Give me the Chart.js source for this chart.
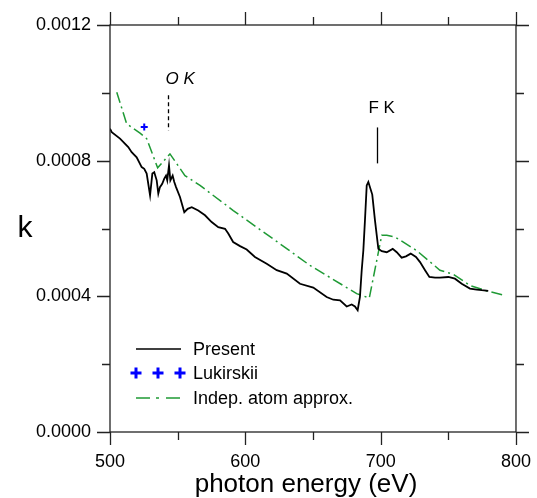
<!DOCTYPE html>
<html>
<head>
<meta charset="utf-8">
<script src="https://cdn.jsdelivr.net/npm/chart.js@4/dist/chart.umd.min.js"></script>
<style>
  html, body { margin: 0; padding: 0; background: #ffffff; }
  #wrap { width: 537px; height: 498px; position: relative; }
</style>
</head>
<body>
<div id="wrap"><canvas id="chart"></canvas></div>
<script>
// Extinction coefficient k versus photon energy (eV)
const presentEnergy = [500, 501.3, 507.4, 513.5, 516.0, 519.7, 523.4, 525.3, 527.1, 529.6, 531.3, 532.7, 534.5, 535.7, 536.9, 538.6, 540.1, 541.4, 542.3, 543.6, 544.6, 546.3, 547.5, 548.8, 551.7, 554.9, 557.4, 560.4, 565.2, 570.2, 575.1, 580.0, 585.0, 587.4, 591.0, 596.1, 601.0, 607.1, 615.8, 623.2, 630.6, 640.4, 650.2, 660.1, 665.0, 670.0, 674.9, 678.6, 681.0, 683.0, 684.7, 686.0, 687.2, 688.4, 689.7, 690.9, 693.8, 695.8, 698.3, 700.8, 704.5, 708.9, 711.9, 715.5, 718.7, 722.2, 726.1, 729.1, 732.8, 736.0, 740.2, 743.8, 750.0, 754.9, 759.9, 766.0, 771.0, 774.7, 779.5];
const presentK = [0.000894, 0.000884, 0.000865, 0.000840, 0.000825, 0.000810, 0.000781, 0.000776, 0.000762, 0.000698, 0.000762, 0.000766, 0.000742, 0.000703, 0.000722, 0.000732, 0.000747, 0.000756, 0.000742, 0.000786, 0.000742, 0.000756, 0.000737, 0.000722, 0.000693, 0.000648, 0.000658, 0.000663, 0.000653, 0.000639, 0.000619, 0.000604, 0.000599, 0.000585, 0.000560, 0.000548, 0.000538, 0.000516, 0.000496, 0.000477, 0.000467, 0.000437, 0.000426, 0.000398, 0.000390, 0.000388, 0.000370, 0.000376, 0.000370, 0.000359, 0.000398, 0.000477, 0.000535, 0.000624, 0.000727, 0.000737, 0.000700, 0.000624, 0.000540, 0.000533, 0.000530, 0.000540, 0.000530, 0.000514, 0.000518, 0.000526, 0.000516, 0.000501, 0.000477, 0.000457, 0.000455, 0.000455, 0.000457, 0.000452, 0.000437, 0.000423, 0.000420, 0.000418, 0.000416];

const lukirskiiEnergy = [525.3];
const lukirskiiK = [0.000899];

const indepEnergy = [505.0, 512.3, 522.2, 527.1, 535.2, 544.3, 555.4, 566.5, 591.1, 625.6, 647.8, 682.3, 691.6, 700.8, 704.5, 710.6, 726.6, 743.8, 753.7, 766.0, 778.4, 791.2];
const indepK = [0.001002, 0.000909, 0.000881, 0.000865, 0.000779, 0.000820, 0.000756, 0.000727, 0.000653, 0.000555, 0.000491, 0.000408, 0.000395, 0.000580, 0.000580, 0.000575, 0.000535, 0.000477, 0.000465, 0.000432, 0.000416, 0.000403];

const xMajorTicks = [500, 600, 700, 800];
const xMinorTicks = [550, 650, 750];
const yMajorTicks = [0, 0.0004, 0.0008, 0.0012];
const yMinorTicks = [0.0002, 0.0006, 0.0010];

// Absorption edge markers
const edgeNames = ['O K', 'F K'];
const edgeEnergy = [543, 697];
const edgeTopK = [0.000993, 0.000898];
const edgeBottomK = [0.000889, 0.000792];

const seriesNames = ['Present', 'Lukirskii', 'Indep. atom approx.'];
const xTitle = 'photon energy (eV)';
const yTitle = 'k';

const FONT = '"Liberation Sans", Arial, sans-serif';
const GREEN = '#1f9a35';
const BLUE = '#0000ff';
const GREEN_DASH = [11, 4, 2, 4];

const toPoints = (xs, ys) => xs.map((x, i) => ({ x: x, y: ys[i] }));

const framePlugin = {
  id: 'frameAndNotes',
  afterDatasetsDraw(chart) {
    const { ctx, chartArea: a, scales } = chart;
    const xs = scales.x, ys = scales.y;
    ctx.save();

    // frame
    ctx.strokeStyle = '#222';
    ctx.lineWidth = 1.3;
    ctx.setLineDash([]);
    ctx.strokeRect(a.left, a.top, a.right - a.left, a.bottom - a.top);

    // outward ticks on all four sides
    const MAJ = 13, MIN = 8;
    ctx.beginPath();
    const xTick = (v, len) => {
      const px = Math.round(xs.getPixelForValue(v)) + 0.5;
      ctx.moveTo(px, a.bottom); ctx.lineTo(px, a.bottom + len);
      ctx.moveTo(px, a.top); ctx.lineTo(px, a.top - len);
    };
    const yTick = (v, len) => {
      const py = Math.round(ys.getPixelForValue(v)) + 0.5;
      ctx.moveTo(a.left, py); ctx.lineTo(a.left - len, py);
      ctx.moveTo(a.right, py); ctx.lineTo(a.right + len, py);
    };
    xMajorTicks.forEach(v => xTick(v, MAJ));
    xMinorTicks.forEach(v => xTick(v, MIN));
    yMajorTicks.forEach(v => yTick(v, MAJ));
    yMinorTicks.forEach(v => yTick(v, MIN));
    ctx.stroke();

    // axis titles
    ctx.fillStyle = '#000';
    ctx.font = '30px ' + FONT;
    ctx.textAlign = 'center';
    ctx.textBaseline = 'alphabetic';
    ctx.fillText(yTitle, 25, (a.top + a.bottom) / 2 + 8);
    ctx.font = '26px ' + FONT;
    ctx.fillText(xTitle, (a.left + a.right) / 2 - 7, a.bottom + 60);

    // edge markers
    ctx.strokeStyle = '#000';
    ctx.lineWidth = 1.3;
    edgeNames.forEach((name, i) => {
      const px = Math.round(xs.getPixelForValue(edgeEnergy[i])) + 0.5;
      const y0 = ys.getPixelForValue(edgeTopK[i]);
      const y1 = ys.getPixelForValue(edgeBottomK[i]);
      ctx.setLineDash(i === 0 ? [4, 3] : []);
      ctx.beginPath();
      ctx.moveTo(px, y0); ctx.lineTo(px, y1);
      ctx.stroke();
      ctx.setLineDash([]);
      ctx.font = (i === 0 ? 'italic ' : '') + '17px ' + FONT;
      ctx.textAlign = 'left';
      ctx.textBaseline = 'alphabetic';
      ctx.fillText(name, px - (i === 0 ? 3 : 9), y0 - (i === 0 ? 11 : 14));
    });

    // legend
    const lx0 = a.left + 26, lx1 = a.left + 71, tx = a.left + 83;
    const rows = [a.bottom - 83, a.bottom - 59, a.bottom - 34];
    ctx.lineWidth = 1.5;
    ctx.strokeStyle = '#000';
    ctx.beginPath(); ctx.moveTo(lx0, rows[0]); ctx.lineTo(lx1, rows[0]); ctx.stroke();

    ctx.strokeStyle = BLUE;
    ctx.lineWidth = 3;
    [lx0, lx0 + 22, lx0 + 44].forEach(cx => {
      ctx.beginPath();
      ctx.moveTo(cx - 5.5, rows[1]); ctx.lineTo(cx + 5.5, rows[1]);
      ctx.moveTo(cx, rows[1] - 5.5); ctx.lineTo(cx, rows[1] + 5.5);
      ctx.stroke();
    });

    ctx.strokeStyle = GREEN;
    ctx.lineWidth = 1.5;
    ctx.setLineDash([14, 6, 3, 7]);
    ctx.beginPath(); ctx.moveTo(lx0, rows[2]); ctx.lineTo(lx1 - 1, rows[2]); ctx.stroke();
    ctx.setLineDash([]);

    ctx.fillStyle = '#000';
    ctx.font = '18px ' + FONT;
    ctx.textAlign = 'left';
    ctx.textBaseline = 'middle';
    seriesNames.forEach((n, i) => ctx.fillText(n, tx, rows[i] + 1));

    ctx.restore();
  }
};

new Chart(document.getElementById('chart'), {
  type: 'scatter',
  data: {
    datasets: [
      {
        label: seriesNames[0],
        data: toPoints(presentEnergy, presentK),
        showLine: true,
        borderColor: '#000',
        borderWidth: 1.8,
        pointRadius: 0,
        tension: 0
      },
      {
        label: seriesNames[1],
        data: toPoints(lukirskiiEnergy, lukirskiiK),
        showLine: false,
        pointStyle: 'cross',
        pointRadius: 3.5,
        borderColor: BLUE,
        backgroundColor: BLUE,
        pointBorderWidth: 2
      },
      {
        label: seriesNames[2],
        data: toPoints(indepEnergy, indepK),
        showLine: true,
        borderColor: GREEN,
        borderWidth: 1.5,
        borderDash: GREEN_DASH,
        pointRadius: 0,
        tension: 0
      }
    ]
  },
  options: {
    responsive: true,
    maintainAspectRatio: false,
    animation: false,
    devicePixelRatio: 1,
    layout: { padding: { top: 25, right: 21, left: 0, bottom: 0 } },
    plugins: { legend: { display: false }, tooltip: { enabled: false } },
    scales: {
      x: {
        type: 'linear',
        position: 'bottom',
        min: 500,
        max: 800,
        afterBuildTicks: s => { s.ticks = xMajorTicks.map(v => ({ value: v })); },
        afterFit: s => { s.height = 66; },
        grid: { display: false, drawTicks: true, tickLength: 13 },
        border: { display: false },
        ticks: { color: '#000', font: { family: FONT, size: 18 }, padding: 6, maxRotation: 0 }
      },
      y: {
        type: 'linear',
        position: 'left',
        min: 0,
        max: 0.0012,
        afterBuildTicks: s => { s.ticks = yMajorTicks.map(v => ({ value: v })); },
        afterFit: s => { s.width = 110; },
        grid: { display: false, drawTicks: true, tickLength: 13 },
        border: { display: false },
        ticks: { color: '#000', font: { family: FONT, size: 18 }, padding: 6, callback: v => Number(v).toFixed(4) }
      }
    }
  },
  plugins: [framePlugin]
});
</script>
</body>
</html>
